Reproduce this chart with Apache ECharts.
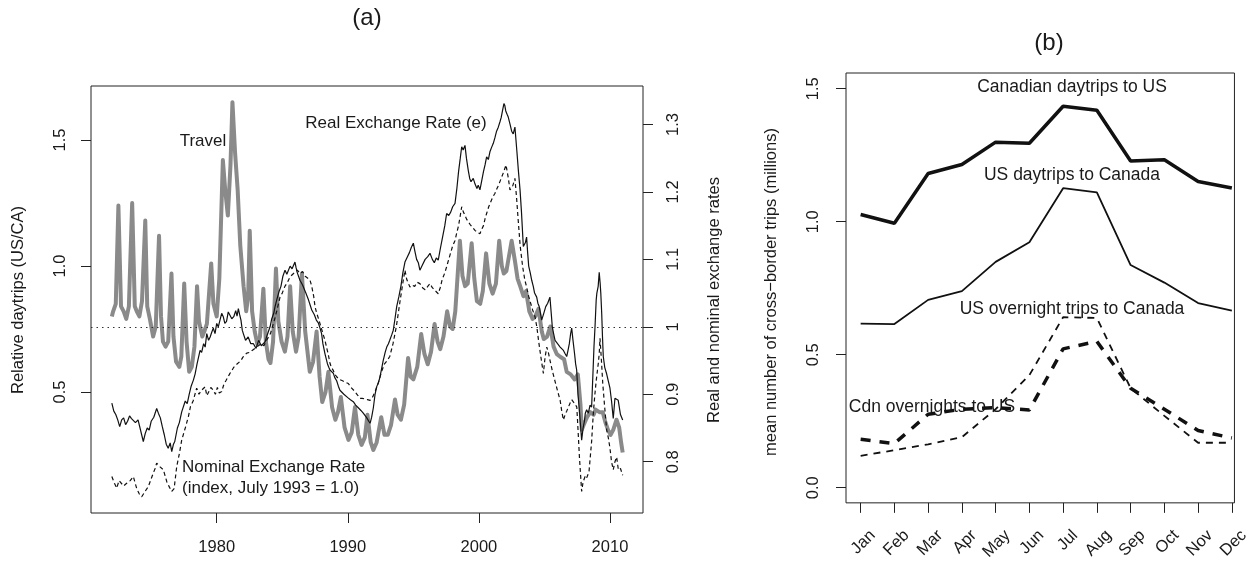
<!DOCTYPE html>
<html><head><meta charset="utf-8">
<script src="https://cdn.jsdelivr.net/npm/echarts@6/dist/echarts.min.js"></script>
<style>html,body{margin:0;padding:0;background:#fff}#c{width:1252px;height:563px}</style>
</head><body><div id="c"></div>
<script>
// ---------- Panel (a) data: [year, value] ----------
const travel = [
[1972.0,0.80],[1972.1,0.82],[1972.3,0.85],[1972.5,1.24],[1972.7,0.84],[1972.9,0.82],
[1973.1,0.79],[1973.3,0.84],[1973.55,1.25],[1973.75,0.84],[1973.9,0.82],
[1974.1,0.80],[1974.3,0.86],[1974.55,1.18],[1974.7,0.84],[1974.9,0.79],
[1975.15,0.72],[1975.35,0.76],[1975.6,1.12],[1975.75,0.80],[1975.9,0.70],
[1976.1,0.68],[1976.3,0.70],[1976.55,0.97],[1976.7,0.72],[1976.9,0.62],
[1977.15,0.60],[1977.3,0.64],[1977.52,0.93],[1977.7,0.70],[1977.9,0.58],
[1978.1,0.60],[1978.3,0.68],[1978.5,0.92],[1978.65,0.78],[1978.9,0.72],
[1979.05,0.74],[1979.25,0.77],[1979.58,1.01],[1979.75,0.85],[1980.0,0.80],
[1980.2,0.95],[1980.47,1.42],[1980.65,1.30],[1980.85,1.20],[1981.05,1.40],
[1981.2,1.65],[1981.4,1.45],[1981.52,1.36],[1981.6,1.30],[1981.8,1.08],
[1982.05,0.92],[1982.25,0.82],[1982.4,0.88],[1982.52,1.14],[1982.7,0.82],[1982.9,0.74],
[1983.1,0.69],[1983.3,0.72],[1983.56,0.91],[1983.75,0.70],[1983.95,0.63],
[1984.1,0.615],[1984.3,0.70],[1984.52,0.99],[1984.7,0.78],[1984.95,0.70],
[1985.2,0.66],[1985.4,0.72],[1985.6,0.92],[1985.8,0.74],[1986.05,0.66],
[1986.25,0.72],[1986.5,0.97],[1986.75,0.74],[1987.1,0.58],[1987.35,0.62],
[1987.62,0.74],[1987.85,0.56],[1988.05,0.46],[1988.3,0.50],[1988.52,0.58],
[1988.8,0.44],[1989.05,0.39],[1989.25,0.42],[1989.47,0.48],[1989.75,0.36],
[1990.05,0.31],[1990.3,0.34],[1990.55,0.44],[1990.8,0.33],[1991.05,0.29],
[1991.3,0.32],[1991.5,0.41],[1991.75,0.30],[1991.95,0.27],[1992.2,0.30],
[1992.55,0.40],[1992.8,0.33],[1993.05,0.33],[1993.3,0.37],[1993.6,0.47],
[1993.8,0.41],[1994.05,0.39],[1994.3,0.45],[1994.6,0.635],[1994.8,0.56],
[1995.0,0.55],[1995.3,0.60],[1995.6,0.73],[1995.85,0.65],[1996.1,0.61],
[1996.35,0.66],[1996.62,0.77],[1996.85,0.70],[1997.05,0.67],[1997.3,0.72],
[1997.58,0.82],[1997.8,0.76],[1998.0,0.75],[1998.2,0.82],[1998.55,1.10],
[1998.75,0.96],[1998.95,0.92],[1999.15,0.93],[1999.45,1.09],[1999.65,0.95],
[1999.85,0.86],[2000.1,0.85],[2000.3,0.90],[2000.55,1.05],[2000.8,0.93],
[2001.05,0.89],[2001.3,0.93],[2001.55,1.10],[2001.75,1.00],[2001.9,0.97],
[2002.1,0.98],[2002.5,1.10],[2002.75,1.02],[2002.95,0.95],[2003.15,0.92],
[2003.4,0.88],[2003.6,0.90],[2003.85,0.82],[2004.1,0.79],[2004.3,0.80],
[2004.55,0.83],[2004.8,0.74],[2004.95,0.71],[2005.2,0.72],[2005.45,0.76],
[2005.7,0.68],[2005.95,0.65],[2006.2,0.64],[2006.5,0.63],[2006.7,0.58],
[2007.0,0.57],[2007.3,0.55],[2007.55,0.57],[2007.75,0.45],[2007.85,0.35],
[2008.0,0.37],[2008.25,0.40],[2008.5,0.42],[2008.75,0.41],[2008.9,0.43],
[2009.2,0.42],[2009.45,0.42],[2009.65,0.38],[2009.85,0.35],[2010.05,0.33],
[2010.25,0.35],[2010.5,0.39],[2010.7,0.36],[2010.85,0.30],[2010.97,0.26]
];
const realRate = [
[1972.0,0.887],[1972.15,0.875],[1972.3,0.87],[1972.45,0.862],[1972.6,0.852],[1972.75,0.862],[1972.9,0.865],[1973.05,0.855],[1973.2,0.86],[1973.35,0.868],[1973.5,0.864],
[1973.65,0.866],[1973.8,0.858],[1974.0,0.862],[1974.15,0.86],[1974.4,0.83],[1974.55,0.842],[1974.7,0.85],[1974.85,0.847],[1975.0,0.86],[1975.2,0.866],[1975.42,0.879],
[1975.55,0.872],[1975.7,0.865],[1975.85,0.852],[1976.0,0.84],[1976.15,0.826],[1976.3,0.82],[1976.45,0.828],[1976.57,0.815],[1976.7,0.826],[1976.8,0.83],[1977.0,0.85],
[1977.15,0.858],[1977.33,0.874],[1977.45,0.872],[1977.6,0.89],[1977.75,0.886],[1977.9,0.90],[1978.05,0.912],[1978.22,0.921],[1978.35,0.93],[1978.5,0.945],[1978.73,0.965],
[1978.85,0.962],[1979.0,0.975],[1979.12,0.97],[1979.24,0.99],[1979.38,0.98],[1979.5,0.985],[1979.62,0.992],[1979.74,0.998],[1979.87,0.99],[1980.0,1.005],[1980.12,1.0],[1980.25,1.01],
[1980.38,1.02],[1980.5,1.015],[1980.62,1.005],[1980.75,1.008],[1980.88,1.022],[1981.0,1.02],[1981.15,1.012],[1981.3,1.015],[1981.45,1.024],[1981.55,1.016],[1981.65,1.027],[1981.75,1.018],[1981.85,1.01],
[1981.95,0.995],[1982.03,0.99],[1982.2,0.98],[1982.4,0.985],[1982.6,0.975],[1982.8,0.975],[1983.0,0.968],[1983.2,0.98],[1983.4,0.972],[1983.55,0.97],[1983.7,0.978],[1983.8,0.985],
[1984.07,1.0],[1984.2,1.012],[1984.35,1.02],[1984.45,1.03],[1984.58,1.04],[1984.75,1.052],[1984.9,1.06],[1985.05,1.075],[1985.21,1.084],[1985.35,1.078],[1985.6,1.09],[1985.75,1.086],
[1985.97,1.096],[1986.05,1.088],[1986.15,1.08],[1986.35,1.069],[1986.55,1.062],[1986.8,1.05],[1987.0,1.04],[1987.25,1.025],[1987.45,1.018],[1987.6,1.01],[1987.75,1.006],
[1987.88,0.998],[1988.0,0.99],[1988.1,0.975],[1988.26,0.96],[1988.45,0.945],[1988.55,0.94],[1988.64,0.936],[1988.9,0.931],[1989.0,0.925],
[1989.15,0.92],[1989.28,0.912],[1989.4,0.906],[1989.55,0.908],[1989.7,0.90],[1989.85,0.9],[1990.0,0.895],[1990.2,0.892],[1990.42,0.889],[1990.6,0.884],[1990.8,0.88],
[1991.0,0.876],[1991.18,0.872],[1991.3,0.87],[1991.45,0.865],[1991.6,0.86],[1991.7,0.857],[1991.82,0.866],[1991.95,0.88],[1992.08,0.9],[1992.2,0.911],[1992.35,0.918],[1992.46,0.926],
[1992.6,0.94],[1992.7,0.95],[1992.85,0.962],[1992.97,0.97],[1993.1,0.975],[1993.2,0.98],[1993.35,0.988],[1993.47,0.995],[1993.6,1.012],[1993.73,1.03],[1993.9,1.045],[1994.05,1.06],
[1994.2,1.08],[1994.36,1.096],[1994.55,1.104],[1994.7,1.11],[1994.85,1.118],[1995.0,1.124],[1995.12,1.112],[1995.25,1.10],[1995.38,1.095],[1995.5,1.084],[1995.7,1.092],[1995.9,1.10],
[1996.1,1.104],[1996.27,1.109],[1996.45,1.1],[1996.6,1.095],[1996.75,1.102],[1996.9,1.099],[1997.05,1.115],[1997.2,1.13],[1997.4,1.15],[1997.54,1.168],[1997.7,1.165],[1997.85,1.17],
[1998.0,1.178],[1998.18,1.183],[1998.32,1.205],[1998.45,1.23],[1998.58,1.25],[1998.69,1.267],[1998.8,1.262],[1998.94,1.269],[1999.05,1.25],[1999.19,1.232],[1999.3,1.22],[1999.4,1.215],
[1999.57,1.22],[1999.7,1.212],[1999.85,1.205],[1999.95,1.21],[2000.08,1.203],[2000.2,1.215],[2000.35,1.23],[2000.47,1.24],[2000.59,1.252],[2000.72,1.248],[2000.85,1.26],[2000.97,1.266],
[2001.1,1.272],[2001.22,1.28],[2001.35,1.29],[2001.48,1.296],[2001.61,1.304],[2001.7,1.31],[2001.8,1.32],[2001.91,1.331],[2001.98,1.328],[2002.05,1.32],[2002.15,1.315],
[2002.24,1.311],[2002.38,1.3],[2002.5,1.29],[2002.62,1.286],[2002.75,1.296],[2002.9,1.26],[2003.02,1.23],[2003.14,1.203],[2003.25,1.17],
[2003.39,1.119],[2003.48,1.12],[2003.55,1.125],[2003.64,1.133],[2003.72,1.11],[2003.8,1.09],[2003.92,1.08],[2004.03,1.069],[2004.15,1.06],[2004.25,1.05],
[2004.41,1.044],[2004.5,1.035],[2004.6,1.03],[2004.7,1.02],[2004.79,1.01],[2004.95,1.02],[2005.1,1.03],[2005.25,1.035],[2005.42,1.044],[2005.52,1.02],[2005.6,1.00],
[2005.7,0.99],[2005.81,0.98],[2006.0,0.975],[2006.2,0.97],[2006.32,0.968],[2006.45,0.965],[2006.58,0.96],[2006.7,0.956],[2006.8,0.965],[2006.9,0.975],[2007.0,0.99],[2007.08,0.998],
[2007.18,0.98],[2007.3,0.96],[2007.38,0.945],[2007.46,0.936],[2007.56,0.9],[2007.65,0.88],[2007.75,0.855],[2007.84,0.832],[2007.95,0.85],[2008.05,0.86],[2008.12,0.872],[2008.22,0.877],
[2008.35,0.872],[2008.48,0.884],[2008.6,0.881],[2008.7,0.93],[2008.78,0.97],[2008.86,1.0],[2008.95,1.04],[2009.0,1.05],[2009.1,1.06],[2009.18,1.081],
[2009.25,1.065],[2009.3,1.05],[2009.37,1.02],[2009.43,0.985],[2009.49,0.956],[2009.6,0.94],[2009.75,0.93],[2009.87,0.92],[2010.0,0.909],[2010.12,0.89],[2010.25,0.864],
[2010.32,0.88],[2010.38,0.894],[2010.5,0.892],[2010.63,0.891],[2010.8,0.87],[2010.97,0.862]
];
const nominalRate = [
[1972.0,0.778],[1972.2,0.768],[1972.37,0.761],[1972.55,0.772],[1972.7,0.77],[1972.9,0.764],[1973.13,0.768],[1973.4,0.772],[1973.64,0.778],
[1973.9,0.76],[1974.1,0.752],[1974.28,0.748],[1974.5,0.755],[1974.78,0.763],[1975.1,0.78],[1975.3,0.79],[1975.42,0.798],
[1975.7,0.792],[1975.93,0.788],[1976.2,0.77],[1976.4,0.762],[1976.57,0.756],[1976.75,0.76],[1976.95,0.793],
[1977.15,0.812],[1977.33,0.832],[1977.6,0.85],[1977.84,0.867],[1978.0,0.882],[1978.2,0.89],[1978.47,0.909],[1978.65,0.9],[1978.8,0.905],[1979.11,0.911],
[1979.25,0.898],[1979.4,0.90],[1979.55,0.91],[1979.74,0.906],[1979.9,0.9],[1980.05,0.91],[1980.2,0.902],[1980.38,0.904],[1980.55,0.915],[1980.7,0.92],[1981.01,0.931],
[1981.15,0.935],[1981.3,0.94],[1981.5,0.944],[1981.65,0.946],[1981.85,0.95],[1982.0,0.955],[1982.29,0.961],[1982.5,0.962],[1982.7,0.965],[1983.05,0.97],
[1983.2,0.968],[1983.4,0.975],[1983.6,0.972],[1983.81,0.98],[1984.1,0.99],[1984.25,1.0],[1984.4,1.01],[1984.6,1.025],[1984.83,1.044],[1985.0,1.05],[1985.2,1.06],
[1985.4,1.066],[1985.59,1.074],[1985.8,1.078],[1985.95,1.08],[1986.15,1.084],[1986.35,1.079],[1986.55,1.082],[1986.75,1.075],[1986.95,1.072],[1987.12,1.069],[1987.25,1.06],[1987.4,1.045],
[1987.5,1.03],[1987.63,1.02],[1987.8,1.01],[1987.95,1.0],[1988.1,0.99],[1988.26,0.98],[1988.4,0.968],[1988.5,0.96],[1988.64,0.946],[1988.75,0.94],[1988.9,0.935],
[1989.0,0.93],[1989.15,0.926],[1989.35,0.922],[1989.6,0.92],[1989.8,0.918],[1990.04,0.916],[1990.25,0.91],[1990.5,0.905],[1990.7,0.9],[1990.93,0.894],[1991.1,0.894],[1991.3,0.893],
[1991.5,0.892],[1991.7,0.891],[1991.9,0.896],[1992.1,0.905],[1992.3,0.915],[1992.46,0.926],[1992.6,0.935],[1992.8,0.945],[1993.0,0.95],[1993.2,0.956],[1993.45,0.975],
[1993.7,1.0],[1993.85,1.02],[1994.0,1.04],[1994.2,1.065],[1994.36,1.084],[1994.5,1.07],[1994.74,1.059],[1994.9,1.062],[1995.1,1.06],[1995.3,1.066],[1995.5,1.064],
[1995.7,1.058],[1995.9,1.055],[1996.1,1.06],[1996.27,1.064],[1996.45,1.058],[1996.6,1.055],[1996.75,1.052],[1996.9,1.049],[1997.05,1.058],[1997.2,1.07],[1997.4,1.08],[1997.54,1.089],
[1997.7,1.1],[1997.85,1.11],[1998.0,1.12],[1998.18,1.128],[1998.32,1.14],[1998.45,1.15],[1998.58,1.165],[1998.69,1.178],[1998.82,1.17],[1998.95,1.165],[1999.05,1.16],[1999.19,1.158],
[1999.32,1.152],[1999.45,1.15],[1999.58,1.146],[1999.7,1.143],[1999.9,1.14],[2000.08,1.138],[2000.2,1.144],[2000.35,1.15],[2000.47,1.16],[2000.59,1.168],[2000.75,1.178],[2000.9,1.185],
[2001.05,1.192],[2001.23,1.198],[2001.38,1.205],[2001.5,1.21],[2001.62,1.216],[2001.74,1.222],[2001.9,1.23],[2002.07,1.24],[2002.16,1.23],[2002.25,1.22],[2002.37,1.203],
[2002.5,1.206],[2002.6,1.21],[2002.75,1.22],[2002.88,1.19],[2003.0,1.158],[2003.15,1.12],[2003.34,1.089],[2003.5,1.07],[2003.64,1.059],[2003.8,1.045],[2003.95,1.035],
[2004.1,1.025],[2004.28,1.015],[2004.42,1.0],[2004.55,0.98],[2004.68,0.962],[2004.8,0.946],[2004.92,0.931],[2005.05,0.955],[2005.18,0.97],[2005.3,0.962],[2005.43,0.95],
[2005.6,0.935],[2005.8,0.92],[2006.0,0.905],[2006.2,0.891],[2006.32,0.875],[2006.45,0.862],[2006.58,0.87],[2006.7,0.875],[2006.85,0.882],[2006.96,0.887],[2007.08,0.892],[2007.2,0.89],
[2007.35,0.885],[2007.47,0.881],[2007.57,0.845],[2007.67,0.807],[2007.76,0.78],[2007.84,0.756],[2007.95,0.77],[2008.1,0.778],[2008.2,0.775],[2008.3,0.78],[2008.4,0.785],[2008.48,0.783],
[2008.6,0.83],[2008.73,0.872],[2008.85,0.9],[2008.95,0.92],[2009.11,0.946],[2009.18,0.96],[2009.24,0.983],[2009.35,0.95],[2009.45,0.916],[2009.6,0.88],[2009.75,0.847],
[2009.88,0.835],[2010.0,0.82],[2010.12,0.8],[2010.25,0.788],[2010.38,0.8],[2010.51,0.807],[2010.64,0.788],[2010.8,0.79],[2010.97,0.78]
];
const yearTicks = [1980, 1990, 2000, 2010];
const leftTicks = [0.5, 1.0, 1.5];
const rightTicks = [0.8, 0.9, 1.0, 1.1, 1.2, 1.3];

// ---------- Panel (b) data ----------
const months = ['Jan','Feb','Mar','Apr','May','Jun','Jul','Aug','Sep','Oct','Nov','Dec'];
const cdnDaytripsUS   = [1.027,0.994,1.181,1.215,1.299,1.295,1.434,1.419,1.228,1.233,1.151,1.127];
const usDaytripsCan   = [0.617,0.615,0.706,0.739,0.849,0.923,1.126,1.110,0.837,0.771,0.694,0.666];
const usOvernightCan  = [0.120,0.141,0.163,0.190,0.295,0.423,0.641,0.638,0.374,0.270,0.169,0.169];
const cdnOvernightsUS = [0.182,0.166,0.276,0.295,0.301,0.292,0.522,0.550,0.374,0.295,0.215,0.187];
const bTicks = [0.0, 0.5, 1.0, 1.5];

const FONT = 'Liberation Sans, Arial, Helvetica, sans-serif';
const TXT = '#1a1a1a';
const monthIdx = months.map((m, i) => i);
const toPairs = arr => arr.map((v, i) => [i, v]);

const tickStyle = { show: true, inside: false, length: 10, lineStyle: { color: '#222', width: 1 } };
const noLine = { show: false, onZero: false };
const lab = (extra) => Object.assign({ color: TXT, fontSize: 16.5, fontFamily: FONT }, extra);

function txt(text, x, y, opts) {
  opts = opts || {};
  return {
    type: 'text', x: x, y: y, rotation: opts.rot || 0,
    style: {
      text: text, fill: TXT,
      font: (opts.size || 17) + 'px ' + FONT,
      textAlign: opts.align || 'center', align: opts.align || 'center',
      textVerticalAlign: 'middle', verticalAlign: 'middle'
    }
  };
}

const chart = echarts.init(document.getElementById('c'), null, { renderer: 'canvas' });
chart.setOption({
  animation: false,
  backgroundColor: '#fff',
  grid: [
    { left: 91, top: 86, width: 552, height: 427, show: true, borderColor: '#222', borderWidth: 1, backgroundColor: 'transparent' },
    { left: 846, top: 73, width: 405, height: 439, show: true, borderColor: '#222', borderWidth: 1, backgroundColor: 'transparent' }
  ],
  xAxis: [
    { type: 'value', gridIndex: 0, min: 1970.41, max: 2012.52,
      axisLine: noLine, splitLine: { show: false },
      axisTick: Object.assign({ customValues: yearTicks }, tickStyle),
      axisLabel: lab({ customValues: yearTicks, margin: 26, formatter: v => String(v) }) },
    { type: 'value', gridIndex: 1, min: -0.434, max: 11.077,
      axisLine: noLine, splitLine: { show: false },
      axisTick: Object.assign({ customValues: monthIdx }, tickStyle),
      axisLabel: lab({ customValues: monthIdx, margin: 42, rotate: 45, padding: [0, -17, 0, 0], formatter: v => months[Math.round(v)] }) }
  ],
  yAxis: [
    { type: 'value', gridIndex: 0, position: 'left', min: 0.02, max: 1.714,
      axisLine: noLine, splitLine: { show: false },
      axisTick: Object.assign({ customValues: leftTicks }, tickStyle),
      axisLabel: lab({ customValues: leftTicks, margin: 22, rotate: 90, formatter: v => v.toFixed(1) }) },
    { type: 'value', gridIndex: 0, position: 'right', min: 0.724, max: 1.357,
      axisLine: noLine, splitLine: { show: false },
      axisTick: Object.assign({ customValues: rightTicks }, tickStyle),
      axisLabel: lab({ customValues: rightTicks, margin: 22, rotate: 90, formatter: v => (Math.abs(v - 1) < 1e-9 ? '1' : v.toFixed(1)) }) },
    { type: 'value', gridIndex: 1, position: 'left', min: -0.057, max: 1.559,
      axisLine: noLine, splitLine: { show: false },
      axisTick: Object.assign({ customValues: bTicks }, tickStyle),
      axisLabel: lab({ customValues: bTicks, margin: 24, rotate: 90, formatter: v => v.toFixed(1) }) }
  ],
  series: [
    { name: 'Travel', type: 'line', xAxisIndex: 0, yAxisIndex: 0, data: travel, symbol: 'none',
      lineStyle: { color: '#8a8a8a', width: 4, join: 'round' }, z: 2 },
    { name: 'Nominal Exchange Rate', type: 'line', xAxisIndex: 0, yAxisIndex: 1, data: nominalRate, symbol: 'none',
      lineStyle: { color: '#111', width: 1.2, type: [4, 3] }, z: 3 },
    { name: 'Real Exchange Rate (e)', type: 'line', xAxisIndex: 0, yAxisIndex: 1, data: realRate, symbol: 'none',
      lineStyle: { color: '#111', width: 1.2 }, z: 4,
      markLine: { silent: true, symbol: 'none', label: { show: false },
        lineStyle: { color: '#333', width: 1, type: [1.5, 4] }, data: [{ yAxis: 1.0 }] } },
    { name: 'Canadian daytrips to US', type: 'line', xAxisIndex: 1, yAxisIndex: 2, data: toPairs(cdnDaytripsUS), symbol: 'none',
      lineStyle: { color: '#111', width: 3.5 } },
    { name: 'US daytrips to Canada', type: 'line', xAxisIndex: 1, yAxisIndex: 2, data: toPairs(usDaytripsCan), symbol: 'none',
      lineStyle: { color: '#111', width: 1.8 } },
    { name: 'US overnight trips to Canada', type: 'line', xAxisIndex: 1, yAxisIndex: 2, data: toPairs(usOvernightCan), symbol: 'none',
      lineStyle: { color: '#111', width: 1.8, type: [7, 6] } },
    { name: 'Cdn overnights to US', type: 'line', xAxisIndex: 1, yAxisIndex: 2, data: toPairs(cdnOvernightsUS), symbol: 'none',
      lineStyle: { color: '#111', width: 3.5, type: [10, 9] } }
  ],
  graphic: [
    txt('(a)', 367, 18, { size: 24 }),
    txt('(b)', 1049, 43, { size: 24 }),
    txt('Relative daytrips (US/CA)', 18, 300, { rot: Math.PI / 2, size: 16.5 }),
    txt('Real and nominal exchange rates', 714, 300, { rot: Math.PI / 2, size: 16.5 }),
    txt('mean number of cross\u2212border trips (millions)', 771, 292, { rot: Math.PI / 2, size: 16.5 }),
    txt('Travel', 203, 141),
    txt('Real Exchange Rate (e)', 396, 123),
    txt('Nominal Exchange Rate', 182, 467, { align: 'left' }),
    txt('(index, July 1993 = 1.0)', 182, 488, { align: 'left' }),
    txt('Canadian daytrips to US', 1072, 87, { size: 17.5 }),
    txt('US daytrips to Canada', 1072, 175, { size: 17.5 }),
    txt('US overnight trips to Canada', 1072, 309, { size: 17.5 }),
    txt('Cdn overnights to US', 932, 407, { size: 17.5 })
  ]
});
</script>
</body></html>
